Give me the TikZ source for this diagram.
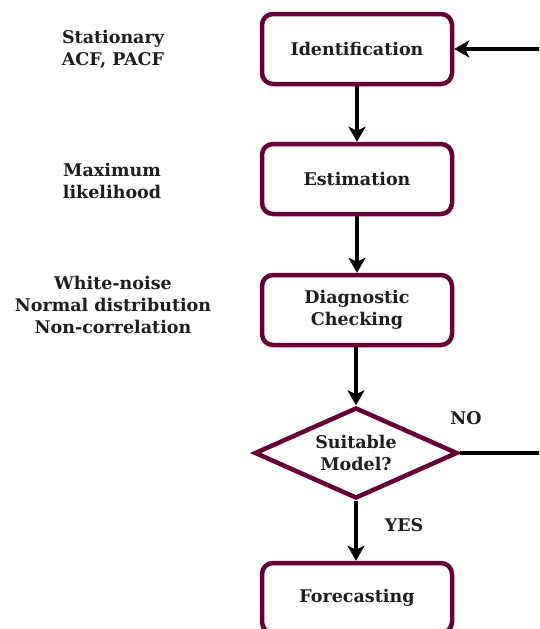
\documentclass[tikz,border=0pt]{standalone}
\usepackage{fontspec}
\setmainfont{DejaVu Serif}
\usetikzlibrary{shapes.geometric, arrows.meta}
\definecolor{boxColor}{RGB}{102,0,51}
\definecolor{textColor}{RGB}{30,30,30}
\newcommand{\chartFont}{\bfseries\fontsize{17.5}{22}\selectfont}
\tikzstyle{chart} = [x = 1pt, y = -1pt, every node/.style={text=textColor, font=\chartFont, align=center}]
\tikzstyle{stepBox} = [draw=boxColor, fill=white, line width=4.5pt, rounded corners=11pt, minimum width=190pt, minimum height=70pt]
\tikzstyle{decisionBox} = [diamond, draw=boxColor, fill=white, line width=4.5pt, aspect=2.2, inner sep=0pt, minimum width=203pt, minimum height=91pt]
\tikzstyle{flowArrow} = [line width=3.2pt, -{Stealth[length=15pt, width=17pt, inset=4pt]}]

\begin{document}
\begin{tikzpicture}[chart]
  \useasboundingbox (0,0) rectangle (539,629);
  \clip (0,0) rectangle (539,629);

  % steps
  \node [stepBox] (ident) at (357,49) {Identification};
  \node [stepBox] (est) at (357,179) {Estimation};
  \node [stepBox] (diag) at (357,310) {Diagnostic\\Checking};
  \node [decisionBox] (dec) at (356,453) {Suitable\\Model?};
  \node [stepBox] (fore) at (357,598) {Forecasting};

  % notes
  \node (noteIdent) at (113,49) {Stationary\\ACF, PACF};
  \node (noteEst) at (112,181) {Maximum\\likelihood};
  \node (noteDiag) at (113,305) {White-noise\\Normal distribution\\Non-correlation};
  \node (noLabel) at (466,418) {NO};
  \node (yesLabel) at (404,525) {YES};

  \draw [flowArrow] (ident) -- (est);
  \draw [flowArrow] (est) -- (diag);
  \draw [flowArrow] (diag.south -| dec.north) -- (dec.north);
  \draw [flowArrow] (dec.south) -- (dec.south |- fore.north);

  % loop back
  \coordinate (back) at (565,0);
  \draw [flowArrow] (dec.east) -- (dec.east -| back) -- (ident.east -| back) -- (ident.east);
\end{tikzpicture}
\end{document}
